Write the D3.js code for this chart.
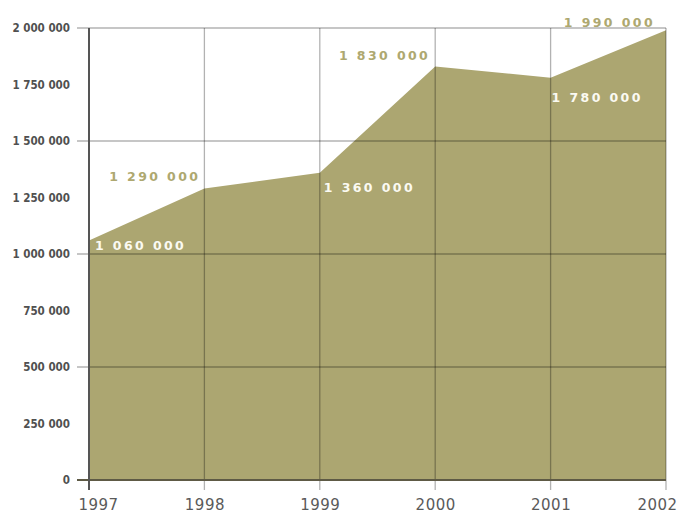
<!DOCTYPE html>
<html>
<head>
<meta charset="utf-8">
<script src="https://cdn.jsdelivr.net/npm/d3@7"></script>
<style>
  html, body { margin: 0; padding: 0; background: #fff; }
  svg { display: block; }
</style>
</head>
<body>
<svg id="chart" width="679" height="515"></svg>
<script>
// Yearly totals
const years  = [1997, 1998, 1999, 2000, 2001, 2002];
const values = [1060000, 1290000, 1360000, 1830000, 1780000, 1990000];
const valueLabels = ["1 060 000", "1 290 000", "1 360 000", "1 830 000", "1 780 000", "1 990 000"];

// Axis ticks
const yTickValues = [0, 250000, 500000, 750000, 1000000, 1250000, 1500000, 1750000, 2000000];
const yTickLabels = ["0", "250 000", "500 000", "750 000", "1 000 000", "1 250 000", "1 500 000", "1 750 000", "2 000 000"];
const yGridValues = [0, 500000, 1000000, 1500000, 2000000];

// Whether each value label sits inside the filled area (white) or above it (olive)
const labelInside = [true, false, true, false, true, false];

const svg = d3.select("#chart");
const plot = { left: 89, right: 666, top: 28, bottom: 480 };

const x = d3.scaleLinear().domain([1997, 2002]).range([plot.left, plot.right]);
const y = d3.scaleLinear().domain([0, 2000000]).range([plot.bottom, plot.top]);

const olive = "#aca671";
const labelOlive = "#aea870";

// Filled area
const area = d3.area()
  .x((d, i) => x(years[i]))
  .y0(y(0))
  .y1(d => y(d));
svg.append("path")
  .datum(values)
  .attr("d", area)
  .attr("fill", olive);

// Grid lines drawn over the area (translucent, so they read gray on white and darker on the fill)
const grid = svg.append("g").attr("stroke", "#000").attr("stroke-opacity", 0.3).attr("stroke-width", 1.3);
grid.selectAll("line.v")
  .data(years.slice(1))
  .join("line")
  .attr("class", "v")
  .attr("x1", d => x(d)).attr("x2", d => x(d))
  .attr("y1", y(2000000)).attr("y2", plot.bottom + 10);
grid.selectAll("line.h")
  .data(yGridValues.slice(1))
  .join("line")
  .attr("class", "h")
  .attr("x1", plot.left - 12).attr("x2", plot.right)
  .attr("y1", d => y(d)).attr("y2", d => y(d));

// X axis baseline
svg.append("line")
  .attr("x1", plot.left - 12).attr("x2", plot.right)
  .attr("y1", y(0)).attr("y2", y(0))
  .attr("stroke", "#5e5a45").attr("stroke-width", 1.8);

// Y axis line with first-year tick
svg.append("line")
  .attr("x1", plot.left).attr("x2", plot.left)
  .attr("y1", y(2000000)).attr("y2", plot.bottom + 10)
  .attr("stroke", "#555").attr("stroke-width", 2);

// Y axis labels
const yAxis = d3.axisLeft(y)
  .tickValues(yTickValues)
  .tickFormat((d, i) => yTickLabels[i])
  .tickSize(0)
  .tickPadding(19);
const gy = svg.append("g").attr("transform", `translate(${plot.left},0)`).call(yAxis);
gy.select(".domain").remove();
gy.selectAll("text")
  .attr("fill", "#505050")
  .style("font-family", "'DejaVu Sans Condensed', 'DejaVu Sans', sans-serif")
  .style("font-stretch", "condensed")
  .style("font-weight", "bold")
  .style("font-size", "11.5px");

// X axis labels (the last one is pulled in so it stays on the page)
const xAxis = d3.axisBottom(x)
  .tickValues(years)
  .tickFormat(d3.format("d"))
  .tickSize(0)
  .tickPadding(19);
const gx = svg.append("g").attr("transform", `translate(0,${plot.bottom})`).call(xAxis);
gx.select(".domain").remove();
gx.selectAll("text")
  .attr("fill", "#5a5a5a")
  .attr("dx", (d, i) => i === 0 ? 9 : (i === years.length - 1 ? -9 : 0))
  .style("font-family", "'DejaVu Sans', sans-serif")
  .style("font-size", "15px")
  .style("letter-spacing", "0.5px");

// Value labels: per-label nudges (px) away from the data point
const labelNudge = [
  { dx: 6,   dy: 10 },
  { dx: -4,  dy: -7 },
  { dx: 4,   dy: 19 },
  { dx: -5,  dy: -6 },
  { dx: 1,   dy: 24 },
  { dx: -11, dy: -3 }
];
svg.append("g")
  .selectAll("text")
  .data(values)
  .join("text")
  .attr("x", (d, i) => x(years[i]) + labelNudge[i].dx)
  .attr("y", (d, i) => y(d) + labelNudge[i].dy)
  .attr("text-anchor", (d, i) => labelInside[i] ? "start" : "end")
  .attr("fill", (d, i) => labelInside[i] ? "#fbfaf2" : labelOlive)
  .style("font-family", "'DejaVu Sans', sans-serif")
  .style("font-weight", "bold")
  .style("font-size", "12.5px")
  .style("letter-spacing", "2.4px")
  .text((d, i) => valueLabels[i]);
</script>
</body>
</html>
